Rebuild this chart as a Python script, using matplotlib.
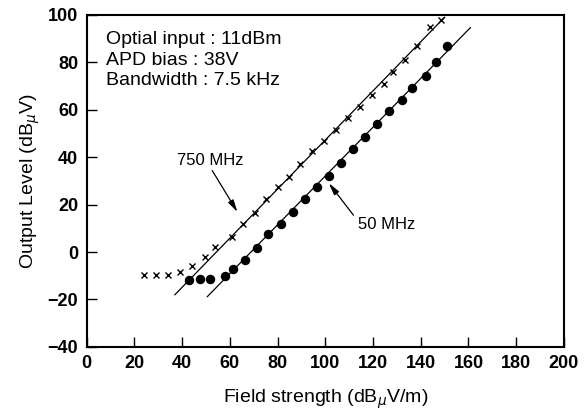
import matplotlib
matplotlib.use("Agg")
import matplotlib.pyplot as plt

# 750 MHz (crosses)
x750 = [24, 29, 34, 39, 44, 49.5, 54, 61, 65.5, 70.5, 75, 80, 85, 89.5, 94.5,
        99.5, 104.5, 109.5, 114.5, 119.5, 124.5, 128.5, 133.5, 138.5, 144, 148.5]
y750 = [-9.5, -9.5, -9.5, -8.5, -6, -2, 2, 6.5, 12, 16.5, 22.5, 27.5, 31.5, 37,
        42.5, 47, 51.5, 56.5, 61, 66, 71, 76, 81, 87, 95, 98]
# 50 MHz (dots)
x50 = [43, 47.5, 51.5, 58, 61.5, 66.5, 71.5, 76, 81.5, 86.5, 91.5, 96.5, 101.5,
       106.5, 111.5, 116.5, 121.5, 126.5, 132, 136.5, 142, 146.5, 151]
y50 = [-11.7, -11.3, -11.3, -10, -7, -3.5, 1.7, 7.5, 11.7, 16.7, 22.2, 27.3, 32,
       37.7, 43.5, 48.4, 54, 59.3, 64.2, 69.2, 74.4, 80.1, 87]
# fitted lines (end points)
fit750_x = [37, 150]
fit750_y = [-18, 99]
fit50_x = [50.6, 160.8]
fit50_y = [-18.8, 94.6]

xticks = list(range(0, 201, 20))
yticks = list(range(-40, 101, 20))

tick_font = dict(family=['Liberation Sans Narrow', 'Liberation Sans', 'DejaVu Sans'],
                 weight='bold', size=13)
text_font = ['Liberation Sans', 'DejaVu Sans']

fig = plt.figure(figsize=(5.85, 4.12), dpi=100)
ax = fig.add_axes([0.148, 0.158, 0.816, 0.806])

ax.plot(fit750_x, fit750_y, color='black', lw=0.9)
ax.plot(fit50_x, fit50_y, color='black', lw=0.9)
ax.plot(x750, y750, linestyle='none', marker='x', color='black', ms=5, mew=1.0)
ax.plot(x50, y50, linestyle='none', marker='o', color='black', ms=5.8)

ax.set_xlim(0, 200)
ax.set_ylim(-40, 100)
ax.set_xticks(xticks)
ax.set_yticks(yticks)
ax.set_xticklabels([str(v) for v in xticks], fontdict=tick_font)
ax.set_yticklabels([str(v).replace('-', '\u2212') for v in yticks], fontdict=tick_font)
ax.tick_params(direction='in', length=7, width=1.0, pad=6)
for s in ax.spines.values():
    s.set_linewidth(1.5)

ax.set_xlabel(r'Field strength (dB$_{\mu}$V/m)', family=text_font, size=14, labelpad=11)
ax.set_ylabel(r'Output Level (dB$_{\mu}$V)', family=text_font, size=14, labelpad=4)

ax.text(8, 93, 'Optial input : 11dBm\nAPD bias : 38V\nBandwidth : 7.5 kHz',
        family=text_font, size=14, va='top', ha='left', linespacing=1.25)

ax.annotate('750 MHz', xy=(63.2, 16.9), xytext=(38, 38.7), family=text_font, size=12,
            va='center', ha='left',
            arrowprops=dict(arrowstyle='-|>,head_length=0.6,head_width=0.15',
                            color='black', lw=0.9, shrinkA=0, shrinkB=0,
                            relpos=(0.5, 0)))
ax.annotate('50 MHz', xy=(101.5, 29.0), xytext=(113.7, 11.8), family=text_font, size=12,
            va='center', ha='left',
            arrowprops=dict(arrowstyle='-|>,head_length=0.6,head_width=0.15',
                            color='black', lw=0.9, shrinkA=2, shrinkB=0,
                            relpos=(0, 0.7)))

fig.savefig('out.png', dpi=100)
